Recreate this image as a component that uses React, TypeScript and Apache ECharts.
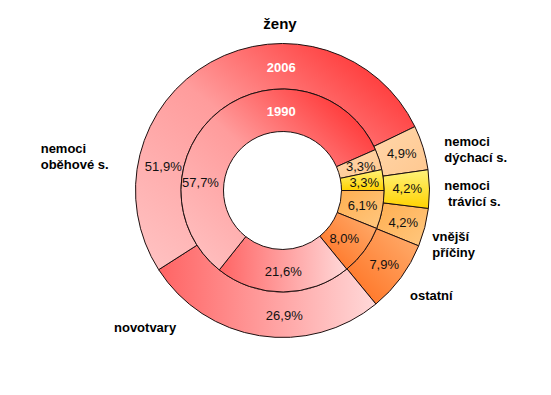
import React, { useEffect, useRef } from "react";
import * as echarts from "echarts";

// Data (drawing order, clockwise from the start angle)
const categories = [
  "vnější\npříčiny",
  "ostatní",
  "novotvary",
  "nemoci\noběhové s.",
  "nemoci\ndýchací s.",
  "nemoci\n trávicí s.",
];
const values2006 = [4.2, 7.9, 26.9, 51.9, 4.9, 4.2];
const values1990 = [6.1, 8.0, 21.6, 57.7, 3.3, 3.3];
const ringLabels = ["2006", "1990"];
const title = "ženy";

// Layout (kept separate from data)
const CX = 282.5;
const CY = 190.5;
const outerLabelPos = [
  [403.3, 222.3],
  [384.2, 264.2],
  [284.3, 315.8],
  [163.3, 166.3],
  [401.7, 153.3],
  [407.2, 188.3],
];
const innerLabelPos = [
  [362.5, 205.3],
  [344.2, 238.3],
  [283.3, 271.7],
  [200.5, 182.5],
  [360.8, 166.7],
  [364.2, 182.8],
];
const categoryLabelPos = [
  [432.3, 244],
  [410, 295.5],
  [114, 327.5],
  [40.7, 156.5],
  [444.3, 149.5],
  [444.3, 193],
];
const ringLabelPos = [
  [281.2, 67.5],
  [281.2, 111.7],
];

// Gradient styles per category: [x0, y0, x1, y1, stops...]
const gradients: [number, number, number, number, string[]][] = [
  [0, 0, 1, 1, ["#FFAE50", "#FFC880"]],
  [0, 1, 1, 0, ["#FF6E1E", "#FFB070"]],
  [0, 0, 1, 0, ["#FF6464", "#FFD8D8"]],
  [1, 0, 0, 1, ["#FF1C1C", "#FF9C9C", "#FFC4C4"]],
  [0, 0, 1, 1, ["#FFD6AA", "#FFC890"]],
  [0, 0, 0, 1, ["#FFF27A", "#FFD200"]],
];

const fmt = (v: number) => v.toFixed(1).replace(".", ",") + "%";

function makeData(values: number[]) {
  return values.map((v, i) => {
    const g = gradients[i];
    const stops = g[4];
    return {
      name: categories[i],
      value: v,
      itemStyle: {
        color: new echarts.graphic.LinearGradient(
          g[0],
          g[1],
          g[2],
          g[3],
          stops.map((c, k) => ({ offset: k / (stops.length - 1), color: c }))
        ),
      },
    };
  });
}

export default function App() {
  const ref = useRef<HTMLDivElement>(null);
  useEffect(() => {
    document.body.style.margin = "0";
    if (!ref.current) return;
    const chart = echarts.init(ref.current, null, { renderer: "svg" });
    const font = "Arial, 'Liberation Sans', Helvetica, sans-serif";
    const seriesCommon = {
      type: "pie" as const,
      center: [CX, CY],
      clockwise: true,
      silent: true,
      avoidLabelOverlap: false,
      itemStyle: { borderColor: "#1e1010", borderWidth: 1 },
      labelLine: { show: false },
      emphasis: { disabled: true },
    };
    const labelStyle = {
      show: true,
      position: "inside" as const,
      color: "#111",
      fontFamily: font,
      fontSize: 13,
      fontWeight: "normal" as const,
      formatter: (p: any) => fmt(p.value),
    };
    chart.setOption({
      animation: false,
      backgroundColor: "#ffffff",
      series: [
        {
          ...seriesCommon,
          name: ringLabels[0],
          radius: [101.5, 147],
          startAngle: -7,
          data: makeData(values2006),
          label: labelStyle,
          labelLayout: (p: any) => ({
            x: outerLabelPos[p.dataIndex][0],
            y: outerLabelPos[p.dataIndex][1],
            align: "center",
            verticalAlign: "middle",
          }),
        },
        {
          ...seriesCommon,
          name: ringLabels[1],
          radius: [59, 101.5],
          startAngle: 0,
          data: makeData(values1990),
          label: labelStyle,
          labelLayout: (p: any) => ({
            x: innerLabelPos[p.dataIndex][0],
            y: innerLabelPos[p.dataIndex][1],
            align: "center",
            verticalAlign: "middle",
          }),
        },
      ],
      graphic: [
        {
          type: "text",
          x: 280,
          y: 23,
          z: 100,
          style: {
            text: title,
            fontFamily: font,
            fontSize: 15,
            fontWeight: "bold",
            fill: "#000",
            align: "center",
            verticalAlign: "middle",
          },
        },
        ...ringLabels.map((t, i) => ({
          type: "text",
          x: ringLabelPos[i][0],
          y: ringLabelPos[i][1],
          z: 100,
          style: {
            text: t,
            fontFamily: font,
            fontSize: 13,
            fontWeight: "bold",
            fill: "#fff",
            align: "center",
            verticalAlign: "middle",
          },
        })),
        ...categories.map((c, i) => ({
          type: "text",
          x: categoryLabelPos[i][0],
          y: categoryLabelPos[i][1],
          z: 100,
          style: {
            text: c,
            fontFamily: font,
            fontSize: 13,
            fontWeight: "bold",
            lineHeight: 16,
            fill: "#000",
            align: "left",
            verticalAlign: "middle",
          },
        })),
      ],
    });
    return () => chart.dispose();
  }, []);
  return <div ref={ref} style={{ width: 551, height: 395 }} />;
}
